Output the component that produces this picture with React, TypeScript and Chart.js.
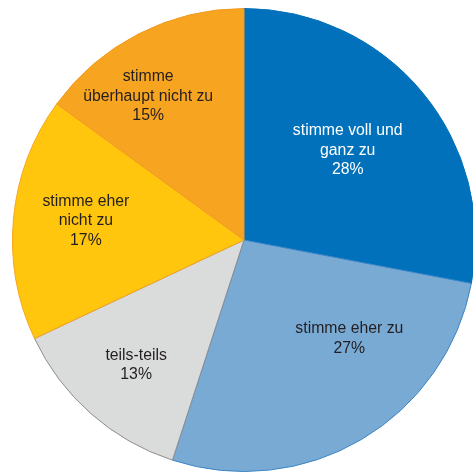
import React, { useEffect, useRef } from "react";
import { Chart, registerables } from "chart.js";

Chart.register(...registerables);

const categories: string[][] = [
  ["stimme voll und", "ganz zu"],
  ["stimme eher zu"],
  ["teils-teils"],
  ["stimme eher", "nicht zu"],
  ["stimme", "überhaupt nicht zu"],
];
const values = [28, 27, 13, 17, 15];
const fillColors = ["#0071BA", "#79AAD4", "#DADBDB", "#FFC60D", "#F7A520"];
const edgeColors = ["#0071BA", "#3C86C6", "#8E8E8E", "#F5A51E", "#F29A22"];
const textColors = ["#FFFFFF", "#231F20", "#231F20", "#231F20", "#231F20"];
// label anchor as fraction of radius from pie centre (x, y)
const labelFx = [0.448, 0.455, -0.466, -0.683, -0.414];
const labelFy = [-0.388, 0.427, 0.541, -0.082, -0.621];

const labelPlugin = {
  id: "sliceLabels",
  afterDatasetsDraw(chart: any) {
    const meta = chart.getDatasetMeta(0);
    const ctx = chart.ctx;
    ctx.save();
    ctx.font = "15.8px 'Liberation Sans', Arial, sans-serif";
    ctx.textAlign = "center";
    ctx.textBaseline = "middle";
    const lineH = 19.5;
    meta.data.forEach((arc: any, i: number) => {
      const { x, y, outerRadius } = arc.getProps(["x", "y", "outerRadius"], true);
      const lines = [...categories[i], values[i] + "%"];
      const cx = x + labelFx[i] * outerRadius;
      const cy = y + labelFy[i] * outerRadius;
      const top = cy - ((lines.length - 1) * lineH) / 2;
      ctx.fillStyle = textColors[i];
      lines.forEach((l, k) => ctx.fillText(l, cx, top + k * lineH));
    });
    ctx.restore();
  },
};

export default function App() {
  const ref = useRef<HTMLCanvasElement>(null);
  useEffect(() => {
    if (!ref.current) return;
    const chart = new Chart(ref.current, {
      type: "pie",
      data: {
        labels: categories.map((c) => c.join(" ")),
        datasets: [
          {
            data: values,
            backgroundColor: fillColors,
            borderColor: edgeColors,
            borderWidth: 1,
          },
        ],
      },
      options: {
        animation: false,
        responsive: true,
        maintainAspectRatio: false,
        layout: { padding: { left: 12, top: 8, right: 4, bottom: 8 } },
        plugins: { legend: { display: false }, tooltip: { enabled: false } },
      },
      plugins: [labelPlugin],
    });
    return () => chart.destroy();
  }, []);
  return (
    <div style={{ position: "fixed", left: 0, top: 0, width: 480, height: 480, background: "#fff" }}>
      <canvas ref={ref} />
    </div>
  );
}
